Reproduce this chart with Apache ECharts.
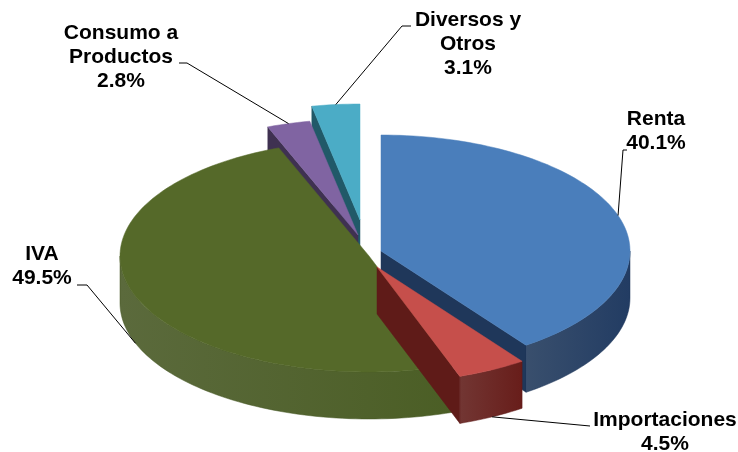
<!DOCTYPE html>
<html><head><meta charset="utf-8">
<script src="https://cdn.jsdelivr.net/npm/echarts@6/dist/echarts.min.js"></script>
<style>html,body{margin:0;padding:0;background:#fff}#c{width:738px;height:452px}</style>
</head><body><div id="c"></div>
<script>
// ---- data ----
const categories = ['Renta', 'Importaciones', 'IVA', 'Consumo a\nProductos', 'Diversos y\nOtros'];
const shares = [40.1, 4.5, 49.5, 2.8, 3.1];

// ---- styles / layout ----
const topColors = ['#4A7EBB', '#C64F4B', '#556929', '#8064A2', '#4BACC6'];
const sideColors = ['#1F375A', '#5F1B18', '#455622', '#3F3151', '#215968'];
const PIE = { cx: 381, cy: 251, rx: 249, ry: 116, depth: 47 };
const explode = [[0, 0], [-4, 16], [-12, 5], [-23, -16], [-21, -31]];
const labelCenter = [[656, 131], [665, 432], [42, 266], [121, 57], [468, 44]];
const leaderStart = [
  [[627, 150], [623, 150]],
  [[590, 426]],
  [[77, 285], [87, 285]],
  [[179, 63], [187, 63]],
  [[411, 26], [402, 26]]
];
const FONT = 'bold 21px "Liberation Sans", Arial, sans-serif';

const total = shares.reduce((a, b) => a + b, 0);
let cum = 0;
const seriesData = shares.map((v, i) => { const d = { name: categories[i], value: [v, cum] }; cum += v; return d; });

// draw order: back (top of screen) to front
const midAngles = shares.map((v, i) => (seriesData[i].value[1] + v / 2) / total * 360);
const order = shares.map((_, i) => i).sort((a, b) => (-Math.cos(midAngles[a] * Math.PI / 180)) - (-Math.cos(midAngles[b] * Math.PI / 180)));

function pt(c, a, dy) {
  const r = a * Math.PI / 180;
  return [c[0] + PIE.rx * Math.sin(r), c[1] - PIE.ry * Math.cos(r) + (dy || 0)];
}
function arcPts(c, a0, a1, dy) {
  const pts = [];
  const n = Math.max(2, Math.ceil(Math.abs(a1 - a0) / 1.5));
  for (let k = 0; k <= n; k++) pts.push(pt(c, a0 + (a1 - a0) * k / n, dy));
  return pts;
}

function renderItem(params, api) {
  const i = params.dataIndex;
  const v = api.value(0), start = api.value(1);
  const a0 = start / total * 360, a1 = (start + v) / total * 360;
  const mid = (a0 + a1) / 2;
  const c = [PIE.cx + explode[i][0], PIE.cy + explode[i][1]];
  const D = PIE.depth;
  const base = order.indexOf(i) * 10;
  const children = [];
  const side = sideColors[i];

  // radial walls
  [[a0, a0 - 90], [a1, a1 + 90]].forEach(([a, n]) => {
    if (-Math.cos(n * Math.PI / 180) > 0.01) {
      const p = pt(c, a, 0);
      children.push({ type: 'polygon', z2: base + 1,
        shape: { points: [c, p, [p[0], p[1] + D], [c[0], c[1] + D]] },
        style: { fill: side, stroke: side, lineWidth: 0.5 } });
    }
  });
  // outer curved wall (lighter on the left, darker on the right)
  const w0 = Math.max(a0, 90), w1 = Math.min(a1, 270);
  if (w1 > w0) {
    const topArc = arcPts(c, w0, w1, 0);
    const botArc = arcPts(c, w1, w0, D);
    children.push({ type: 'polygon', z2: base + 2,
      shape: { points: topArc.concat(botArc) },
      style: { fill: new echarts.graphic.LinearGradient(0, 0, 1, 0, [
          { offset: 0, color: echarts.color.lift(side, -0.1) },
          { offset: 1, color: echarts.color.lift(side, 0.12) }].reverse().map((s, k) => ({ offset: k, color: s.color }))),
        stroke: side, lineWidth: 0.5 } });
  }
  // top face
  children.push({ type: 'polygon', z2: base + 5,
    shape: { points: [c].concat(arcPts(c, a0, a1, 0)) },
    style: { fill: topColors[i], stroke: topColors[i], lineWidth: 0.5 } });

  // leader line
  const frontFacing = mid > 90 && mid < 270;
  const end = pt(c, mid, frontFacing ? D : 0);
  children.push({ type: 'polyline', z2: 300,
    shape: { points: leaderStart[i].concat([end]) },
    style: { stroke: '#000', lineWidth: 1, fill: null } });
  // label
  children.push({ type: 'text', z2: 310,
    style: { text: categories[i] + '\n' + v.toFixed(1) + '%',
      x: labelCenter[i][0], y: labelCenter[i][1], align: 'center', verticalAlign: 'middle',
      fill: '#000', font: FONT, lineHeight: 24 } });

  return { type: 'group', children: children };
}

const chart = echarts.init(document.getElementById('c'), null, { renderer: 'canvas' });
chart.setOption({
  animation: false,
  backgroundColor: '#ffffff',
  series: [{
    type: 'custom',
    coordinateSystem: 'none',
    silent: true,
    data: seriesData,
    renderItem: renderItem
  }]
});
</script>
</body></html>
